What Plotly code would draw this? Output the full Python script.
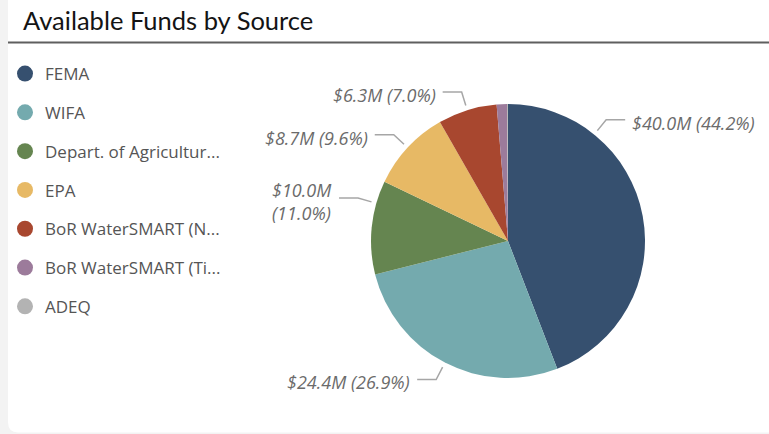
import math
import plotly.graph_objects as go

# ---- data ----
sources = ["FEMA", "WIFA", "Depart. of Agricultur...", "EPA",
           "BoR WaterSMART (N...", "BoR WaterSMART (Ti...", "ADEQ"]
funds_m = [40.0, 24.4, 10.0, 8.7, 6.3, 1.1, 0.1]
colors = ["#36506F", "#74AAAE", "#658550", "#E7B965", "#A8472F", "#9C7B9B", "#B3B3B3"]
title_text = "Available Funds by Source"

# ---- layout constants (pixels) ----
W, H = 769, 434
CX, CY, R = 508, 241, 137

def px(x):
    return x / W

def py(y):
    return 1 - y / H

total = sum(funds_m)

# label placement tweaks (angle override in degrees clockwise from top, multi-line)
angle_override = {0: 39.0, 2: 286.0}
wrap_label = {2}
show_label = [True, True, True, True, True, False, False]

fig = go.Figure()

fig.add_trace(go.Pie(
    labels=sources, values=funds_m, sort=False, direction="clockwise", rotation=0,
    marker=dict(colors=colors, line=dict(width=0)),
    textinfo="none", hoverinfo="label+value+percent", showlegend=False,
    domain=dict(x=[px(CX - R), px(CX + R)], y=[py(CY + R), py(CY - R)]),
))

# legend via dummy marker traces (circles)
for i, (name, c) in enumerate(zip(sources, colors)):
    fig.add_trace(go.Scatter(
        x=[None], y=[None], mode="markers", name=name,
        marker=dict(color=c, size=16, symbol="circle"),
        legendgroup=f"g{i}", showlegend=True,
    ))

shapes = []
annotations = []

# card background
shapes.append(dict(type="path", xref="paper", yref="paper",
                   path=f"M {px(8)},{py(0)} L {px(W+10)},{py(0)} L {px(W+10)},{py(432.5)} "
                        f"L {px(18)},{py(432.5)} Q {px(8)},{py(432.5)} {px(8)},{py(422)} Z",
                   fillcolor="white", line=dict(width=0), layer="below"))
# title underline
shapes.append(dict(type="line", xref="paper", yref="paper",
                   x0=px(8), x1=1, y0=py(42.5), y1=py(42.5),
                   line=dict(color="#5f5f5f", width=2)))

annotations.append(dict(text=title_text, xref="paper", yref="paper",
                        x=px(21), y=py(19.5), xanchor="left", yanchor="middle",
                        showarrow=False,
                        font=dict(family="Lato, sans-serif", size=25.5, color="#141414")))

# data labels with elbow leader lines
cum = 0.0
for i, v in enumerate(funds_m):
    frac = v / total
    mid = (cum + frac / 2) * 360.0
    cum += frac
    if not show_label[i]:
        continue
    th = math.radians(angle_override.get(i, mid))
    sx, sy = math.sin(th), -math.cos(th)
    x0, y0 = CX + (R + 5) * sx, CY + (R + 5) * sy
    x1, y1 = CX + (R + 19) * sx, CY + (R + 19) * sy
    side = 1 if sx >= 0 else -1
    x2 = x1 + side * 19
    shapes.append(dict(type="path", xref="paper", yref="paper",
                       path=f"M {px(x0)},{py(y0)} L {px(x1)},{py(y1)} L {px(x2)},{py(y1)}",
                       line=dict(color="#a6a6a6", width=1.5)))
    pct = 100 * frac
    sep = "<br>" if i in wrap_label else " "
    txt = f"<i>${v:.1f}M{sep}({pct:.1f}%)</i>"
    annotations.append(dict(text=txt, xref="paper", yref="paper",
                            x=px(x2 + side * 5), y=py(y1 + 3),
                            xanchor="left" if side > 0 else "right",
                            yanchor="middle", align="left", showarrow=False,
                            font=dict(family="Open Sans, sans-serif", size=18, color="#6b6b6b")))

fig.update_layout(
    width=W, height=H,
    margin=dict(l=0, r=0, t=0, b=0),
    paper_bgcolor="#f3f3f3", plot_bgcolor="rgba(0,0,0,0)",
    xaxis=dict(visible=False), yaxis=dict(visible=False),
    shapes=shapes, annotations=annotations,
    legend=dict(x=px(5), y=py(56), xanchor="left", yanchor="top",
                font=dict(family="Open Sans, sans-serif", size=17, color="#555555"),
                tracegroupgap=13.7, itemclick=False, bgcolor="rgba(0,0,0,0)"),
    showlegend=True,
)

fig.write_html("out.html", config={"displayModeBar": False},
               post_script="document.body.style.margin='0';document.body.style.background='#f3f3f3';")
